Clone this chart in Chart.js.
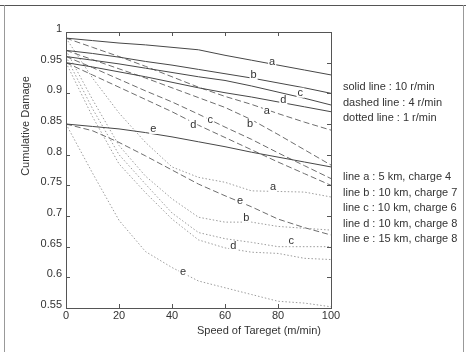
<!DOCTYPE html>
<html>
<head>
<meta charset="utf-8">
<script src="https://cdn.jsdelivr.net/npm/chart.js@4.4.1/dist/chart.umd.min.js"></script>
<style>
	body { margin: 0; background: #fff; }
	#wrap { position: relative; width: 466px; height: 352px; overflow: hidden; font-family: "Liberation Sans", Arial, sans-serif; color: #333; }
	#wrap canvas { position: absolute; left: 0; top: 0; }
	.note { position: absolute; left: 343px; font-size: 11px; line-height: 15.5px; white-space: nowrap; }
	.frame { position: absolute; background: #555; }
</style>
</head>
<body>
<div id="wrap">
	<canvas id="lineChart" width="466" height="352"></canvas>
	<div class="frame" style="left:0;top:5px;width:466px;height:1px"></div>
	<div class="frame" style="left:4px;top:5px;width:1px;height:347px;background:#999"></div>
	<div class="frame" style="left:463px;top:5px;width:1px;height:347px;background:#999"></div>
	<div class="note" style="top:79px">solid line : 10 r/min<br>dashed line : 4 r/min<br>dotted line : 1 r/min</div>
	<div class="note" style="top:169px">line a : 5 km, charge 4<br>line b : 10 km, charge 7<br>line c : 10 km, charge 6<br>line d : 10 km, charge 8<br>line e : 15 km, charge 8</div>
	<div style="position:absolute;left:197px;top:324px;font-size:11px;white-space:nowrap">Speed of Tareget (m/min)</div>
	<div style="position:absolute;left:25px;top:126px;font-size:11px;white-space:nowrap;transform:translate(-50%,-50%) rotate(-90deg)">Cumulative Damage</div>
</div>
<script>
// speed of target (m/min)
let speeds = [0, 10, 20, 30, 40, 50, 60, 70, 80, 90, 100];
let lineNames = ['a', 'b', 'c', 'd', 'e'];

// solid line : 10 r/min  (a ~ e)
let solid10 = [
	[0.990, 0.986, 0.982, 0.979, 0.975, 0.971, 0.962, 0.954, 0.946, 0.938, 0.930],
	[0.970, 0.965, 0.959, 0.952, 0.946, 0.939, 0.932, 0.925, 0.917, 0.909, 0.900],
	[0.960, 0.954, 0.948, 0.941, 0.934, 0.927, 0.921, 0.912, 0.902, 0.892, 0.881],
	[0.950, 0.943, 0.935, 0.927, 0.918, 0.909, 0.901, 0.894, 0.886, 0.878, 0.870],
	[0.850, 0.846, 0.842, 0.836, 0.829, 0.821, 0.813, 0.804, 0.796, 0.788, 0.780]
];

// dashed line : 4 r/min
let dashed4 = [
	[0.990, 0.975, 0.960, 0.944, 0.927, 0.910, 0.895, 0.882, 0.867, 0.853, 0.840],
	[0.970, 0.955, 0.940, 0.925, 0.909, 0.893, 0.877, 0.857, 0.833, 0.808, 0.783],
	[0.960, 0.942, 0.923, 0.904, 0.886, 0.866, 0.845, 0.825, 0.803, 0.782, 0.761],
	[0.950, 0.930, 0.910, 0.890, 0.870, 0.848, 0.828, 0.808, 0.788, 0.769, 0.750],
	[0.850, 0.839, 0.820, 0.798, 0.775, 0.752, 0.733, 0.715, 0.695, 0.681, 0.669]
];

// dotted line : 1 r/min
let dotted1 = [
	[0.990, 0.925, 0.868, 0.820, 0.780, 0.763, 0.755, 0.741, 0.740, 0.739, 0.731],
	[0.970, 0.890, 0.815, 0.765, 0.728, 0.698, 0.690, 0.690, 0.683, 0.680, 0.677],
	[0.960, 0.875, 0.800, 0.752, 0.705, 0.673, 0.663, 0.657, 0.650, 0.650, 0.650],
	[0.950, 0.862, 0.785, 0.738, 0.695, 0.661, 0.648, 0.641, 0.639, 0.631, 0.629],
	[0.850, 0.770, 0.693, 0.642, 0.616, 0.594, 0.583, 0.572, 0.561, 0.558, 0.552]
];

// where the letters sit on each line (speed, damage)
let solidLabelX = [77.8, 70.8, 88.4, 82.0, 32.9];
let solidLabelY = [0.951, 0.930, 0.901, 0.889, 0.842];
let dashedLabelX = [75.8, 69.5, 54.4, 48.0, 65.7];
let dashedLabelY = [0.872, 0.850, 0.857, 0.849, 0.724];
let dottedLabelX = [78.1, 68.0, 85.0, 63.1, 44.2];
let dottedLabelY = [0.747, 0.697, 0.659, 0.651, 0.608];

let xTicks = [0, 20, 40, 60, 80, 100];
let yTicks = [0.55, 0.6, 0.65, 0.7, 0.75, 0.8, 0.85, 0.9, 0.95, 1];

let styles = [
	{ rows: solid10, color: '#474747', dash: [], labelX: solidLabelX, labelY: solidLabelY },
	{ rows: dashed4, color: '#6e6e6e', dash: [6, 3], labelX: dashedLabelX, labelY: dashedLabelY },
	{ rows: dotted1, color: '#9c9c9c', dash: [1.5, 2], labelX: dottedLabelX, labelY: dottedLabelY }
];

let datasets = [];
styles.forEach(function(st) {
	st.rows.forEach(function(row, i) {
		datasets.push({
			label: lineNames[i],
			data: row.map(function(v, k) { return { x: speeds[k], y: v }; }),
			borderColor: st.color,
			borderWidth: 1,
			borderDash: st.dash,
			pointRadius: 0,
			tension: 0,
			fill: false
		});
	});
});

// box, inward ticks and the a~e letters
let decorate = {
	id: 'decorate',
	afterDatasetsDraw: function(chart) {
		let ctx = chart.ctx;
		let area = chart.chartArea;
		let xs = chart.scales.x;
		let ys = chart.scales.y;
		ctx.save();
		ctx.strokeStyle = '#555';
		ctx.lineWidth = 1;
		ctx.strokeRect(area.left + 0.5, area.top + 0.5, area.right - area.left, area.bottom - area.top);
		ctx.beginPath();
		yTicks.forEach(function(v) {
			let py = Math.round(ys.getPixelForValue(v)) + 0.5;
			ctx.moveTo(area.left, py); ctx.lineTo(area.left + 4, py);
			ctx.moveTo(area.right, py); ctx.lineTo(area.right - 4, py);
		});
		xTicks.forEach(function(v) {
			let px = Math.round(xs.getPixelForValue(v)) + 0.5;
			ctx.moveTo(px, area.bottom); ctx.lineTo(px, area.bottom - 4);
			ctx.moveTo(px, area.top); ctx.lineTo(px, area.top + 4);
		});
		ctx.stroke();

		ctx.font = '11px "Liberation Sans", Arial, sans-serif';
		ctx.textAlign = 'center';
		ctx.textBaseline = 'middle';
		styles.forEach(function(st) {
			lineNames.forEach(function(name, i) {
				let px = xs.getPixelForValue(st.labelX[i]);
				let py = ys.getPixelForValue(st.labelY[i]);
				let w = ctx.measureText(name).width;
				ctx.fillStyle = '#fff';
				ctx.fillRect(px - w / 2 - 1, py - 5, w + 2, 10);
				ctx.fillStyle = '#333';
				ctx.fillText(name, px, py);
			});
		});
		ctx.restore();
	}
};

let chart = new Chart(document.getElementById('lineChart'), {
	type: 'line',
	data: { datasets: datasets },
	options: {
		responsive: false,
		animation: false,
		devicePixelRatio: 1,
		layout: { padding: { left: 0, top: 32, right: 135, bottom: 0 } },
		plugins: { legend: { display: false }, tooltip: { enabled: false } },
		scales: {
			x: {
				type: 'linear',
				min: 0,
				max: 100,
				grid: { display: false, drawTicks: false },
				border: { display: false },
				ticks: {
					stepSize: 20,
					padding: 1,
					color: '#333',
					font: { family: '"Liberation Sans", Arial, sans-serif', size: 11 }
				},
				afterFit: function(scale) { scale.height = 44; }
			},
			y: {
				min: 0.55,
				max: 1,
				grid: { display: false, drawTicks: false },
				border: { display: false },
				ticks: {
					stepSize: 0.05,
					padding: 4,
					labelOffset: -3,
					color: '#333',
					font: { family: '"Liberation Sans", Arial, sans-serif', size: 11 },
					callback: function(v) { return String(Math.round(v * 100) / 100); }
				},
				afterFit: function(scale) { scale.width = 66; }
			}
		}
	},
	plugins: [decorate]
});
</script>
</body>
</html>
